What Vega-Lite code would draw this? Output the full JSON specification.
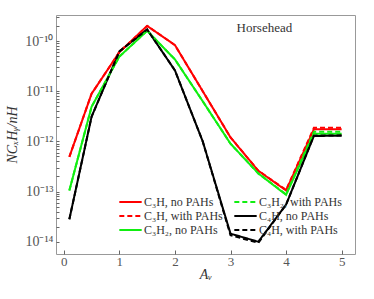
{
  "$schema": "https://vega.github.io/schema/vega-lite/v6.json",
  "width": 299,
  "height": 239,
  "autosize": "none",
  "padding": {"left": 56, "top": 15, "right": 19, "bottom": 45},
  "background": "white",
  "config": {
    "view": {"stroke": "#999999", "strokeWidth": 1},
    "font": "Liberation Serif"
  },
  "datasets": {
    "lines": [
      {"s": "C₃H, no PAHs", "x": 0.1, "y": 4.9e-13},
      {"s": "C₃H, no PAHs", "x": 0.5, "y": 8.9e-12},
      {"s": "C₃H, no PAHs", "x": 1.0, "y": 6.0e-11},
      {"s": "C₃H, no PAHs", "x": 1.5, "y": 2.0e-10},
      {"s": "C₃H, no PAHs", "x": 2.0, "y": 8.3e-11},
      {"s": "C₃H, no PAHs", "x": 2.5, "y": 1.0e-11},
      {"s": "C₃H, no PAHs", "x": 3.0, "y": 1.2e-12},
      {"s": "C₃H, no PAHs", "x": 3.5, "y": 2.6e-13},
      {"s": "C₃H, no PAHs", "x": 4.0, "y": 1.05e-13},
      {"s": "C₃H, no PAHs", "x": 4.5, "y": 1.74e-12},
      {"s": "C₃H, no PAHs", "x": 5.0, "y": 1.74e-12},
      {"s": "C₃H₂, no PAHs", "x": 0.1, "y": 1.05e-13},
      {"s": "C₃H₂, no PAHs", "x": 0.5, "y": 4.9e-12},
      {"s": "C₃H₂, no PAHs", "x": 1.0, "y": 4.9e-11},
      {"s": "C₃H₂, no PAHs", "x": 1.5, "y": 1.6e-10},
      {"s": "C₃H₂, no PAHs", "x": 2.0, "y": 4.3e-11},
      {"s": "C₃H₂, no PAHs", "x": 2.5, "y": 6.3e-12},
      {"s": "C₃H₂, no PAHs", "x": 3.0, "y": 9.0e-13},
      {"s": "C₃H₂, no PAHs", "x": 3.5, "y": 2.3e-13},
      {"s": "C₃H₂, no PAHs", "x": 4.0, "y": 8.6e-14},
      {"s": "C₃H₂, no PAHs", "x": 4.5, "y": 1.42e-12},
      {"s": "C₃H₂, no PAHs", "x": 5.0, "y": 1.42e-12},
      {"s": "C₄H, no PAHs", "x": 0.1, "y": 2.8e-14},
      {"s": "C₄H, no PAHs", "x": 0.5, "y": 3.1e-12},
      {"s": "C₄H, no PAHs", "x": 1.0, "y": 6.2e-11},
      {"s": "C₄H, no PAHs", "x": 1.5, "y": 1.7e-10},
      {"s": "C₄H, no PAHs", "x": 2.0, "y": 2.6e-11},
      {"s": "C₄H, no PAHs", "x": 2.5, "y": 1.0e-12},
      {"s": "C₄H, no PAHs", "x": 3.0, "y": 1.45e-14},
      {"s": "C₄H, no PAHs", "x": 3.5, "y": 1.0e-14},
      {"s": "C₄H, no PAHs", "x": 4.0, "y": 5.5e-14},
      {"s": "C₄H, no PAHs", "x": 4.5, "y": 1.28e-12},
      {"s": "C₄H, no PAHs", "x": 5.0, "y": 1.3e-12},
      {"s": "C₃H, with PAHs", "x": 0.1, "y": 4.9e-13},
      {"s": "C₃H, with PAHs", "x": 0.5, "y": 8.9e-12},
      {"s": "C₃H, with PAHs", "x": 1.0, "y": 6.0e-11},
      {"s": "C₃H, with PAHs", "x": 1.5, "y": 2.0e-10},
      {"s": "C₃H, with PAHs", "x": 2.0, "y": 8.3e-11},
      {"s": "C₃H, with PAHs", "x": 2.5, "y": 1.0e-11},
      {"s": "C₃H, with PAHs", "x": 3.0, "y": 1.2e-12},
      {"s": "C₃H, with PAHs", "x": 3.5, "y": 2.6e-13},
      {"s": "C₃H, with PAHs", "x": 4.0, "y": 1.08e-13},
      {"s": "C₃H, with PAHs", "x": 4.5, "y": 1.86e-12},
      {"s": "C₃H, with PAHs", "x": 5.0, "y": 1.86e-12},
      {"s": "C₃H₂, with PAHs", "x": 0.1, "y": 1.05e-13},
      {"s": "C₃H₂, with PAHs", "x": 0.5, "y": 4.9e-12},
      {"s": "C₃H₂, with PAHs", "x": 1.0, "y": 4.9e-11},
      {"s": "C₃H₂, with PAHs", "x": 1.5, "y": 1.6e-10},
      {"s": "C₃H₂, with PAHs", "x": 2.0, "y": 4.3e-11},
      {"s": "C₃H₂, with PAHs", "x": 2.5, "y": 6.3e-12},
      {"s": "C₃H₂, with PAHs", "x": 3.0, "y": 9.0e-13},
      {"s": "C₃H₂, with PAHs", "x": 3.5, "y": 2.3e-13},
      {"s": "C₃H₂, with PAHs", "x": 4.0, "y": 8.8e-14},
      {"s": "C₃H₂, with PAHs", "x": 4.5, "y": 1.55e-12},
      {"s": "C₃H₂, with PAHs", "x": 5.0, "y": 1.55e-12},
      {"s": "C₄H, with PAHs", "x": 0.1, "y": 2.8e-14},
      {"s": "C₄H, with PAHs", "x": 0.5, "y": 3.1e-12},
      {"s": "C₄H, with PAHs", "x": 1.0, "y": 6.2e-11},
      {"s": "C₄H, with PAHs", "x": 1.5, "y": 1.7e-10},
      {"s": "C₄H, with PAHs", "x": 2.0, "y": 2.6e-11},
      {"s": "C₄H, with PAHs", "x": 2.5, "y": 1.0e-12},
      {"s": "C₄H, with PAHs", "x": 3.0, "y": 1.35e-14},
      {"s": "C₄H, with PAHs", "x": 3.5, "y": 9.5e-15},
      {"s": "C₄H, with PAHs", "x": 4.0, "y": 5.5e-14},
      {"s": "C₄H, with PAHs", "x": 4.5, "y": 1.3e-12},
      {"s": "C₄H, with PAHs", "x": 5.0, "y": 1.32e-12}
    ],
    "label": [{"x": 3.61, "y": 1.82e-10, "t": "Horsehead"}]
  },
  "layer": [
    {
      "data": {"name": "lines"},
      "mark": {"type": "line", "strokeWidth": 2, "clip": true},
      "encoding": {
        "x": {
          "field": "x", "type": "quantitative",
          "scale": {"domain": [-0.14, 5.24], "nice": false, "zero": false},
          "axis": {
            "title": "Aᵥ", "titleFontStyle": "italic", "titleFontWeight": "normal",
            "titleFontSize": 14, "titleColor": "#333", "titlePadding": -1,
            "values": [0, 1, 2, 3, 4, 5], "format": "d",
            "grid": false, "domain": false, "tickSize": -4, "tickColor": "#666",
            "labelFontSize": 13, "labelColor": "#555", "labelPadding": 5,
            "labelFont": "Liberation Serif", "titleFont": "Liberation Serif"
          }
        },
        "y": {
          "field": "y", "type": "quantitative",
          "scale": {"type": "log", "domain": [5.7e-15, 3.3e-10], "nice": false},
          "axis": {
            "title": "NCₓHᵧ/nH", "titleFontStyle": "italic", "titleFontWeight": "normal",
            "titleFontSize": 14, "titleColor": "#333", "titlePadding": 5,
            "values": [1e-14, 2e-14, 3e-14, 4e-14, 5e-14, 6e-14, 7e-14, 8e-14, 9e-14,
                       1e-13, 2e-13, 3e-13, 4e-13, 5e-13, 6e-13, 7e-13, 8e-13, 9e-13,
                       1e-12, 2e-12, 3e-12, 4e-12, 5e-12, 6e-12, 7e-12, 8e-12, 9e-12,
                       1e-11, 2e-11, 3e-11, 4e-11, 5e-11, 6e-11, 7e-11, 8e-11, 9e-11,
                       1e-10, 2e-10, 3e-10],
            "labelExpr": "abs(log(datum.value)/LN10 - round(log(datum.value)/LN10)) > 0.01 ? '' : (round(log(datum.value)/LN10) == -10 ? '10⁻¹⁰' : round(log(datum.value)/LN10) == -11 ? '10⁻¹¹' : round(log(datum.value)/LN10) == -12 ? '10⁻¹²' : round(log(datum.value)/LN10) == -13 ? '10⁻¹³' : '10⁻¹⁴')",
            "grid": false, "domain": false, "tickSize": -3, "tickColor": "#666",
            "labelFontSize": 14, "labelColor": "#555", "labelPadding": 6,
            "labelFont": "Liberation Serif", "titleFont": "Liberation Serif"
          }
        },
        "color": {
          "field": "s", "type": "nominal",
          "scale": {
            "domain": ["C₃H, no PAHs", "C₃H, with PAHs", "C₃H₂, no PAHs", "C₃H₂, with PAHs", "C₄H, no PAHs", "C₄H, with PAHs"],
            "range": ["#ff0000", "#ff0000", "#11ee11", "#11ee11", "#000000", "#000000"]
          },
          "legend": {
            "title": null, "orient": "none", "legendX": 62, "legendY": 181,
            "columns": 2, "columnPadding": 10, "rowPadding": 2, "clipHeight": 12,
            "symbolType": "stroke", "symbolSize": 500, "symbolStrokeWidth": 2,
            "labelFontSize": 12, "labelColor": "#333", "labelFont": "Liberation Serif",
            "labelOffset": 1
          }
        },
        "strokeDash": {
          "field": "s", "type": "nominal",
          "scale": {
            "domain": ["C₃H, no PAHs", "C₃H, with PAHs", "C₃H₂, no PAHs", "C₃H₂, with PAHs", "C₄H, no PAHs", "C₄H, with PAHs"],
            "range": [[1, 0], [5, 3], [1, 0], [5, 3], [1, 0], [5, 3]]
          },
          "legend": {
            "title": null, "orient": "none", "legendX": 62, "legendY": 181,
            "columns": 2, "columnPadding": 10, "rowPadding": 2, "clipHeight": 12,
            "symbolType": "stroke", "symbolSize": 500, "symbolStrokeWidth": 2,
            "labelFontSize": 12, "labelColor": "#333", "labelFont": "Liberation Serif",
            "labelOffset": 1
          }
        }
      }
    },
    {
      "data": {"name": "label"},
      "mark": {"type": "text", "fontSize": 13, "color": "#333", "font": "Liberation Serif"},
      "encoding": {
        "x": {"field": "x", "type": "quantitative"},
        "y": {"field": "y", "type": "quantitative"},
        "text": {"field": "t"}
      }
    }
  ]
}
